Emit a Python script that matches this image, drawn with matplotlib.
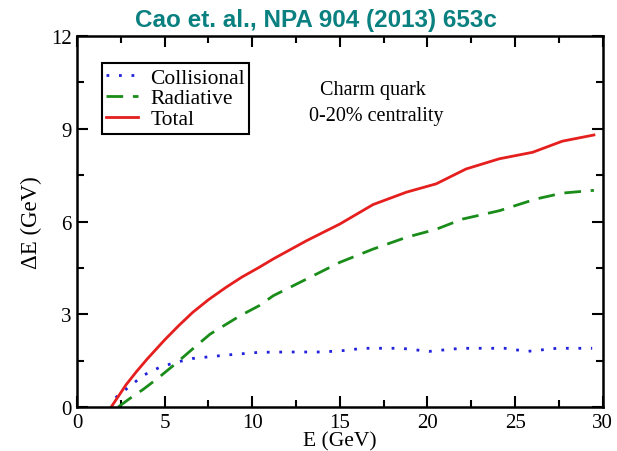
import matplotlib.pyplot as plt
from matplotlib.ticker import MultipleLocator

# data
e_col = [2.2, 2.7, 3.8, 4.7, 5.6, 6.6, 8.5, 10.4, 12.0, 14.0, 15.3, 16.3, 18.5, 20.1, 21.9, 22.6, 24.4, 25.7, 27.4, 29.4]
de_col = [0.30, 0.53, 1.03, 1.28, 1.44, 1.57, 1.68, 1.77, 1.78, 1.78, 1.83, 1.90, 1.90, 1.80, 1.90, 1.90, 1.90, 1.80, 1.90, 1.90]

e_rad = [2.35, 3.0, 3.8, 4.7, 5.6, 6.6, 7.6, 9.3, 10.4, 11.2, 13.1, 15.0, 16.9, 18.8, 20.5, 22.0, 24.1, 26.2, 27.7, 29.5]
de_rad = [0.0, 0.27, 0.58, 0.97, 1.39, 1.88, 2.36, 2.95, 3.28, 3.60, 4.14, 4.68, 5.11, 5.49, 5.75, 6.08, 6.35, 6.73, 6.92, 7.01]

e_tot = [1.95, 2.4, 2.8, 3.4, 4.0, 5.0, 5.8, 6.6, 7.5, 8.5, 9.4, 10.4, 11.2, 13.1, 15.0, 16.9, 18.8, 20.5, 22.2, 24.1, 26.0, 27.7, 29.5]
de_tot = [0.0, 0.38, 0.72, 1.15, 1.55, 2.17, 2.63, 3.06, 3.47, 3.87, 4.20, 4.52, 4.79, 5.38, 5.92, 6.55, 6.95, 7.22, 7.70, 8.03, 8.24, 8.60, 8.80]

serif = ['Liberation Serif', 'DejaVu Serif']

fig = plt.figure(figsize=(6.17, 4.52), dpi=100)
ax = fig.add_axes([0.1248, 0.0973, 0.852, 0.8207])

ax.plot(e_col, de_col, color='#2222dd', lw=2, linestyle=(0, (1, 3.5)), label='Collisional')
ax.plot(e_rad, de_rad, color='#1a8c1a', lw=2, linestyle=(0, (6, 3.5)), label='Radiative')
ax.plot(e_tot, de_tot, color='#e51e1e', lw=2, label='Total')

ax.set_xlim(0, 30)
ax.set_ylim(0, 12)
ax.xaxis.set_major_locator(MultipleLocator(5))
ax.xaxis.set_minor_locator(MultipleLocator(2.5))
ax.yaxis.set_major_locator(MultipleLocator(3))
ax.yaxis.set_minor_locator(MultipleLocator(1.5))
ax.tick_params(which='both', direction='in', top=True, right=True, width=1.5)
ax.tick_params(which='major', length=8, labelsize=15, pad=4)
ax.tick_params(which='minor', length=5)
for lab in ax.get_xticklabels() + ax.get_yticklabels():
    lab.set_family(serif)
for sp in ax.spines.values():
    sp.set_linewidth(1.8)

ax.set_xlabel('E (GeV)', family=serif, fontsize=15.5, labelpad=0)
ax.set_ylabel('ΔE (GeV)', family=serif, fontsize=16.5, labelpad=6)

leg = ax.legend(loc='upper left', bbox_to_anchor=(0.047, 0.927), prop={'family': serif, 'size': 15.5},
                frameon=True, fancybox=False, edgecolor='black', framealpha=1,
                handlelength=1.5, handletextpad=0.55, labelspacing=0.04, borderpad=0.2,
                borderaxespad=0)
leg.get_frame().set_linewidth(1.5)

ax.text(0.563, 0.857, 'Charm quark', transform=ax.transAxes, ha='center', va='center',
        family=serif, fontsize=14.5)
ax.text(0.57, 0.785, '0-20% centrality', transform=ax.transAxes, ha='center', va='center',
        family=serif, fontsize=14.5)

fig.text(0.512, 0.955, 'Cao et. al., NPA 904 (2013) 653c', ha='center', va='center',
         color='#0a8080', fontsize=17.5, fontweight='bold', family=['Liberation Sans', 'DejaVu Sans'])

fig.savefig('out.png', dpi=100)
